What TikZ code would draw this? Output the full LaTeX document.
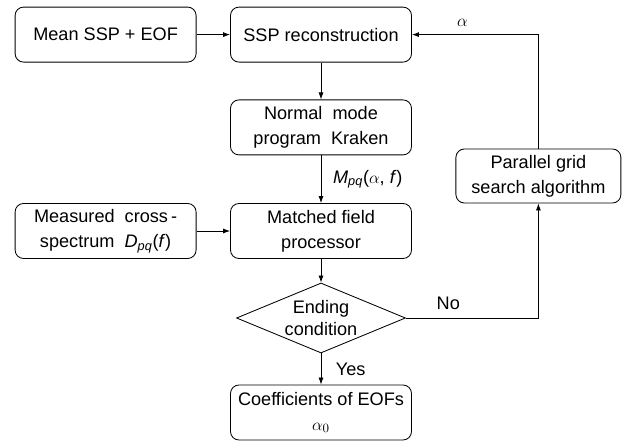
\documentclass[tikz,border=0pt]{standalone}
\usepackage{fontspec}
\setmainfont{Liberation Sans}
\usetikzlibrary{arrows.meta,shapes.geometric}

\begin{document}
\begin{tikzpicture}[
    font=\fontsize{12.9}{17.8}\selectfont,
    box/.style={draw, rounded corners=6pt, line width=0.6pt, align=center,
        minimum width=4.525cm, minimum height=1.375cm, inner sep=1pt},
    cond/.style={draw, diamond, aspect=2.4, line width=0.6pt, align=center,
        minimum width=4.225cm, minimum height=1.75cm, inner sep=0pt,
        font=\fontsize{12.9}{15.5}\selectfont},
    flow/.style={-{Latex[length=5pt, width=3.6pt]}, line width=0.6pt}
    ]

    \useasboundingbox (0,0) rectangle (15.7,11.025);

    \node[box] (Mean) at (2.64,10.16) {Mean SSP + EOF};
    \node[box] (SSP) at (8.025,10.16) {SSP reconstruction};
    \node[box] (NM) at (8.025,7.84) {Normal~~mode\\program~~Kraken};
    \node[box] (MFP) at (8.025,5.25) {Matched field\\processor};
    \node[box] (CSD) at (2.64,5.25) {Measured~~cross\,-\\spectrum~~\textit{D}\textsubscript{\textit{pq}}(\textit{f})};
    \node[cond] (End) at (8.025,3.075) {Ending\\condition};
    \node[box] (Coef) at (8.025,0.7125) {Coefficients of EOFs\\$\alpha_0$};
    \node[box, minimum width=4.125cm, minimum height=1.35cm] (PGS) at (13.46,6.625) {Parallel grid\\search algorithm};

    \draw[flow] (Mean) -- (SSP);
    \draw[flow] (SSP) -- (NM);
    \draw[flow] (NM) -- node[right, xshift=5pt]{\textit{M}\textsubscript{\textit{pq}}($\alpha$, \textit{f})} (MFP);
    \draw[flow] (CSD) -- (MFP);
    \draw[flow] (MFP) -- (End);
    \draw[flow] (End) -- node[right, xshift=7pt]{Yes} (Coef);
    \draw[flow] (End.east) -| node[pos=0.16, above, yshift=2pt]{No} (PGS.south);
    \draw[flow] (PGS.north) |- node[pos=0.8, above, yshift=2pt]{$\alpha$} (SSP.east);

\end{tikzpicture}
\end{document}
